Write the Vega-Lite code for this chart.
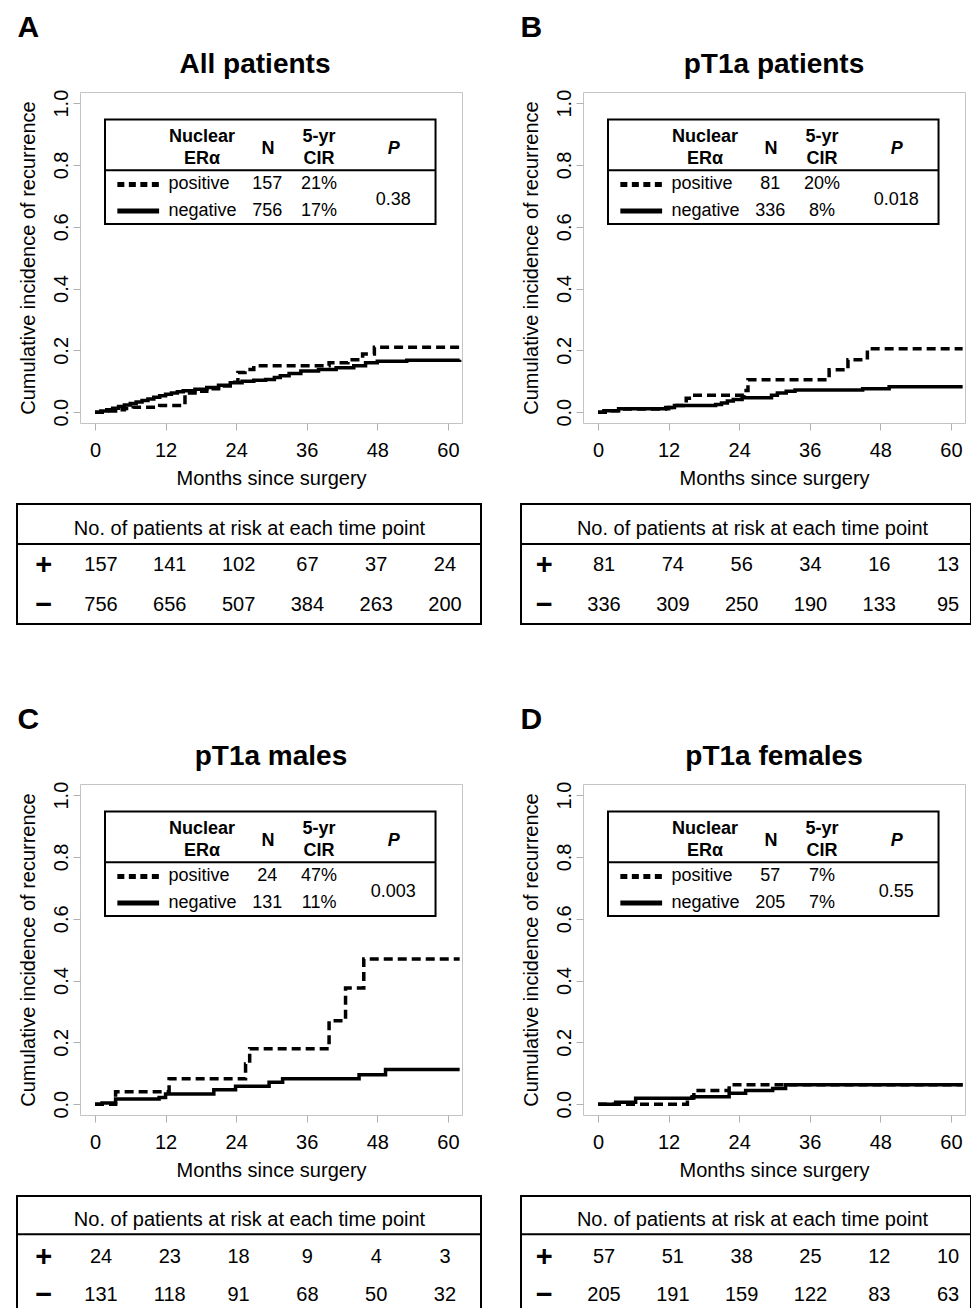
{
 "$schema": "https://vega.github.io/schema/vega-lite/v6.json",
 "padding": {"left": 15, "top": 12, "right": 0, "bottom": 0},
 "background": "white",
 "config": {
  "font": "Liberation Sans",
  "view": {"stroke": "#c4c4c4", "strokeWidth": 1},
  "mark": {"color": "black"},
  "axis": {"grid": false, "domain": false, "tickColor": "#b0b0b0", "tickSize": 7, "tickWidth": 1, "labelFontSize": 20, "titleFontSize": 20, "titleFontWeight": "normal", "labelColor": "black", "titleColor": "black", "labelFont": "Liberation Sans", "titleFont": "Liberation Sans"},
  "axisX": {"labelPadding": 10, "titlePadding": 8, "labelAngle": 0},
  "axisY": {"labelAngle": 270, "labelAlign": "center", "labelBaseline": "bottom", "labelPadding": 2, "titlePadding": 13},
  "text": {"font": "Liberation Sans", "fontSize": 18, "color": "black", "baseline": "middle"},
  "title": {"font": "Liberation Sans", "color": "black", "fontWeight": "bold"}
 },
 "datasets": {
  "curveA": [
   {"group":"positive","t":0,"cir":0},{"group":"positive","t":2,"cir":0.004},{"group":"positive","t":3.5,"cir":0.008},{"group":"positive","t":5,"cir":0.012},{"group":"positive","t":6.5,"cir":0.016},{"group":"positive","t":11,"cir":0.022},{"group":"positive","t":15.3,"cir":0.062},{"group":"positive","t":17,"cir":0.068},{"group":"positive","t":19,"cir":0.076},{"group":"positive","t":21,"cir":0.085},{"group":"positive","t":23,"cir":0.097},{"group":"positive","t":24.3,"cir":0.128},{"group":"positive","t":25.5,"cir":0.138},{"group":"positive","t":27,"cir":0.15},{"group":"positive","t":39.8,"cir":0.16},{"group":"positive","t":43,"cir":0.17},{"group":"positive","t":45.5,"cir":0.188},{"group":"positive","t":47.5,"cir":0.21},{"group":"positive","t":62,"cir":0.21},
   {"group":"negative","t":0,"cir":0},{"group":"negative","t":1,"cir":0.004},{"group":"negative","t":2,"cir":0.008},{"group":"negative","t":3,"cir":0.013},{"group":"negative","t":4,"cir":0.018},{"group":"negative","t":5,"cir":0.023},{"group":"negative","t":6,"cir":0.028},{"group":"negative","t":7,"cir":0.033},{"group":"negative","t":8,"cir":0.038},{"group":"negative","t":9,"cir":0.043},{"group":"negative","t":10,"cir":0.048},{"group":"negative","t":11,"cir":0.053},{"group":"negative","t":12,"cir":0.058},{"group":"negative","t":13,"cir":0.062},{"group":"negative","t":14,"cir":0.066},{"group":"negative","t":15,"cir":0.069},{"group":"negative","t":17,"cir":0.074},{"group":"negative","t":19,"cir":0.08},{"group":"negative","t":21,"cir":0.087},{"group":"negative","t":23,"cir":0.095},{"group":"negative","t":25,"cir":0.1},{"group":"negative","t":27,"cir":0.103},{"group":"negative","t":29,"cir":0.106},{"group":"negative","t":30.5,"cir":0.112},{"group":"negative","t":31.5,"cir":0.118},{"group":"negative","t":33,"cir":0.125},{"group":"negative","t":35,"cir":0.133},{"group":"negative","t":38,"cir":0.138},{"group":"negative","t":41,"cir":0.144},{"group":"negative","t":44,"cir":0.15},{"group":"negative","t":46,"cir":0.16},{"group":"negative","t":48,"cir":0.165},{"group":"negative","t":53,"cir":0.168},{"group":"negative","t":62,"cir":0.17}
  ],
  "curveB": [
   {"group":"positive","t":0,"cir":0},{"group":"positive","t":2,"cir":0.005},{"group":"positive","t":4,"cir":0.01},{"group":"positive","t":11.5,"cir":0.015},{"group":"positive","t":12.5,"cir":0.022},{"group":"positive","t":14.5,"cir":0.03},{"group":"positive","t":15,"cir":0.045},{"group":"positive","t":16,"cir":0.055},{"group":"positive","t":24.8,"cir":0.07},{"group":"positive","t":25.5,"cir":0.105},{"group":"positive","t":39.3,"cir":0.137},{"group":"positive","t":42.5,"cir":0.17},{"group":"positive","t":45.8,"cir":0.205},{"group":"positive","t":62,"cir":0.205},
   {"group":"negative","t":0,"cir":0},{"group":"negative","t":1,"cir":0.005},{"group":"negative","t":3.5,"cir":0.011},{"group":"negative","t":12,"cir":0.015},{"group":"negative","t":13,"cir":0.022},{"group":"negative","t":20,"cir":0.025},{"group":"negative","t":21,"cir":0.03},{"group":"negative","t":22,"cir":0.036},{"group":"negative","t":23,"cir":0.041},{"group":"negative","t":24.5,"cir":0.047},{"group":"negative","t":29.5,"cir":0.055},{"group":"negative","t":30.5,"cir":0.062},{"group":"negative","t":32,"cir":0.068},{"group":"negative","t":33.5,"cir":0.072},{"group":"negative","t":45,"cir":0.076},{"group":"negative","t":49.5,"cir":0.082},{"group":"negative","t":62,"cir":0.082}
  ],
  "curveC": [
   {"group":"positive","t":0,"cir":0},{"group":"positive","t":3.5,"cir":0.04},{"group":"positive","t":12.6,"cir":0.082},{"group":"positive","t":25.6,"cir":0.13},{"group":"positive","t":26.3,"cir":0.179},{"group":"positive","t":39.8,"cir":0.27},{"group":"positive","t":42.6,"cir":0.376},{"group":"positive","t":45.7,"cir":0.47},{"group":"positive","t":62,"cir":0.47},
   {"group":"negative","t":0,"cir":0},{"group":"negative","t":1.2,"cir":0.004},{"group":"negative","t":3.5,"cir":0.017},{"group":"negative","t":10.9,"cir":0.022},{"group":"negative","t":12,"cir":0.033},{"group":"negative","t":20.2,"cir":0.047},{"group":"negative","t":23.9,"cir":0.058},{"group":"negative","t":29.6,"cir":0.071},{"group":"negative","t":31.9,"cir":0.082},{"group":"negative","t":44.9,"cir":0.095},{"group":"negative","t":49.4,"cir":0.112},{"group":"negative","t":62,"cir":0.112}
  ],
  "curveD": [
   {"group":"positive","t":0,"cir":0},{"group":"positive","t":15.2,"cir":0.02},{"group":"positive","t":16.3,"cir":0.044},{"group":"positive","t":22.3,"cir":0.063},{"group":"positive","t":62,"cir":0.063},
   {"group":"negative","t":0,"cir":0},{"group":"negative","t":3,"cir":0.006},{"group":"negative","t":6.4,"cir":0.019},{"group":"negative","t":16,"cir":0.024},{"group":"negative","t":22.3,"cir":0.035},{"group":"negative","t":25.1,"cir":0.044},{"group":"negative","t":29.7,"cir":0.051},{"group":"negative","t":31.9,"cir":0.063},{"group":"negative","t":62,"cir":0.063}
  ],
  "riskA": [
   {"group":"positive","month":0,"n":157},{"group":"positive","month":12,"n":141},{"group":"positive","month":24,"n":102},{"group":"positive","month":36,"n":67},{"group":"positive","month":48,"n":37},{"group":"positive","month":60,"n":24},
   {"group":"negative","month":0,"n":756},{"group":"negative","month":12,"n":656},{"group":"negative","month":24,"n":507},{"group":"negative","month":36,"n":384},{"group":"negative","month":48,"n":263},{"group":"negative","month":60,"n":200}
  ],
  "riskB": [
   {"group":"positive","month":0,"n":81},{"group":"positive","month":12,"n":74},{"group":"positive","month":24,"n":56},{"group":"positive","month":36,"n":34},{"group":"positive","month":48,"n":16},{"group":"positive","month":60,"n":13},
   {"group":"negative","month":0,"n":336},{"group":"negative","month":12,"n":309},{"group":"negative","month":24,"n":250},{"group":"negative","month":36,"n":190},{"group":"negative","month":48,"n":133},{"group":"negative","month":60,"n":95}
  ],
  "riskC": [
   {"group":"positive","month":0,"n":24},{"group":"positive","month":12,"n":23},{"group":"positive","month":24,"n":18},{"group":"positive","month":36,"n":9},{"group":"positive","month":48,"n":4},{"group":"positive","month":60,"n":3},
   {"group":"negative","month":0,"n":131},{"group":"negative","month":12,"n":118},{"group":"negative","month":24,"n":91},{"group":"negative","month":36,"n":68},{"group":"negative","month":48,"n":50},{"group":"negative","month":60,"n":32}
  ],
  "riskD": [
   {"group":"positive","month":0,"n":57},{"group":"positive","month":12,"n":51},{"group":"positive","month":24,"n":38},{"group":"positive","month":36,"n":25},{"group":"positive","month":48,"n":12},{"group":"positive","month":60,"n":10},
   {"group":"negative","month":0,"n":205},{"group":"negative","month":12,"n":191},{"group":"negative","month":24,"n":159},{"group":"negative","month":36,"n":122},{"group":"negative","month":48,"n":83},{"group":"negative","month":60,"n":63}
  ]
 },
 "spacing": 78,
 "vconcat": [
  {"spacing": 13, "vconcat": [
   {"spacing": 52, "hconcat": [
    {"title": {"text": "A", "fontSize": 30, "anchor": "start", "offset": 8}, "vconcat": [
     {"width": 382, "height": 331,
      "title": {"text": "All patients", "fontSize": 28, "frame": "group", "anchor": "middle", "offset": 10, "dx": -16},
      "data": {"values": [{}]},
      "layer": [
       {"data": {"name": "curveA"}, "mark": {"type": "line", "interpolate": "step-after", "strokeWidth": 3.5, "color": "black", "strokeCap": "butt"},
        "encoding": {
         "x": {"field": "t", "type": "quantitative", "scale": {"domain": [-2.55, 62.4], "nice": false, "zero": false}, "axis": {"values": [0,12,24,36,48,60], "title": "Months since surgery"}},
         "y": {"field": "cir", "type": "quantitative", "scale": {"domain": [-0.035, 1.036], "nice": false, "zero": false}, "axis": {"values": [0,0.2,0.4,0.6,0.8,1], "format": ".1f", "title": "Cumulative incidence of recurrence"}},
         "strokeDash": {"field": "group", "type": "nominal", "scale": {"domain": ["positive","negative"], "range": [[9,5],[1,0]]}, "legend": null}}},
       {"mark": {"type": "rect", "fill": "white", "stroke": "black", "strokeWidth": 2}, "encoding": {"x": {"datum": 1.7}, "x2": {"datum": 57.9}, "y": {"datum": 0.947}, "y2": {"datum": 0.609}}},
       {"mark": {"type": "rule", "strokeWidth": 2, "color": "black"}, "encoding": {"x": {"datum": 1.7}, "x2": {"datum": 57.9}, "y": {"datum": 0.783}}},
       {"mark": {"type": "text", "fontWeight": "bold", "text": ["Nuclear", "ERα"], "lineHeight": 22.5}, "encoding": {"x": {"datum": 18.2}, "y": {"datum": 0.8905}}},
       {"mark": {"type": "text", "fontWeight": "bold", "text": "N"}, "encoding": {"x": {"datum": 29.4}, "y": {"datum": 0.851}}},
       {"mark": {"type": "text", "fontWeight": "bold", "text": ["5-yr", "CIR"], "lineHeight": 22.5}, "encoding": {"x": {"datum": 38.1}, "y": {"datum": 0.8905}}},
       {"mark": {"type": "text", "fontWeight": "bold", "fontStyle": "italic", "text": "P"}, "encoding": {"x": {"datum": 50.8}, "y": {"datum": 0.851}}},
       {"data": {"values": [{"P": "0.38"}]}, "mark": {"type": "text"}, "encoding": {"x": {"datum": 50.7}, "y": {"datum": 0.687}, "text": {"field": "P"}}},
       {"data": {"values": [{"group": "positive", "N": 157, "CIR": "21%"}]}, "encoding": {"y": {"datum": 0.737}}, "layer": [
        {"mark": {"type": "rule", "strokeWidth": 5, "strokeDash": [7, 4.5]}, "encoding": {"x": {"datum": 3.8}, "x2": {"datum": 10.9}}},
        {"mark": {"type": "text", "align": "left"}, "encoding": {"x": {"datum": 12.5}, "text": {"field": "group"}}},
        {"mark": {"type": "text"}, "encoding": {"x": {"datum": 29.3}, "text": {"field": "N"}}},
        {"mark": {"type": "text"}, "encoding": {"x": {"datum": 38.1}, "text": {"field": "CIR"}}}]},
       {"data": {"values": [{"group": "negative", "N": 756, "CIR": "17%"}]}, "encoding": {"y": {"datum": 0.651}}, "layer": [
        {"mark": {"type": "rule", "strokeWidth": 5}, "encoding": {"x": {"datum": 3.8}, "x2": {"datum": 10.9}}},
        {"mark": {"type": "text", "align": "left"}, "encoding": {"x": {"datum": 12.5}, "text": {"field": "group"}}},
        {"mark": {"type": "text"}, "encoding": {"x": {"datum": 29.3}, "text": {"field": "N"}}},
        {"mark": {"type": "text"}, "encoding": {"x": {"datum": 38.1}, "text": {"field": "CIR"}}}]}
      ]}
    ]},
    {"title": {"text": "B", "fontSize": 30, "anchor": "start", "offset": 8}, "vconcat": [
     {"width": 382, "height": 331,
      "title": {"text": "pT1a patients", "fontSize": 28, "frame": "group", "anchor": "middle", "offset": 10},
      "data": {"values": [{}]},
      "layer": [
       {"data": {"name": "curveB"}, "mark": {"type": "line", "interpolate": "step-after", "strokeWidth": 3.5, "color": "black", "strokeCap": "butt"},
        "encoding": {
         "x": {"field": "t", "type": "quantitative", "scale": {"domain": [-2.55, 62.4], "nice": false, "zero": false}, "axis": {"values": [0,12,24,36,48,60], "title": "Months since surgery"}},
         "y": {"field": "cir", "type": "quantitative", "scale": {"domain": [-0.035, 1.036], "nice": false, "zero": false}, "axis": {"values": [0,0.2,0.4,0.6,0.8,1], "format": ".1f", "title": "Cumulative incidence of recurrence"}},
         "strokeDash": {"field": "group", "type": "nominal", "scale": {"domain": ["positive","negative"], "range": [[9,5],[1,0]]}, "legend": null}}},
       {"mark": {"type": "rect", "fill": "white", "stroke": "black", "strokeWidth": 2}, "encoding": {"x": {"datum": 1.7}, "x2": {"datum": 57.9}, "y": {"datum": 0.947}, "y2": {"datum": 0.609}}},
       {"mark": {"type": "rule", "strokeWidth": 2, "color": "black"}, "encoding": {"x": {"datum": 1.7}, "x2": {"datum": 57.9}, "y": {"datum": 0.783}}},
       {"mark": {"type": "text", "fontWeight": "bold", "text": ["Nuclear", "ERα"], "lineHeight": 22.5}, "encoding": {"x": {"datum": 18.2}, "y": {"datum": 0.8905}}},
       {"mark": {"type": "text", "fontWeight": "bold", "text": "N"}, "encoding": {"x": {"datum": 29.4}, "y": {"datum": 0.851}}},
       {"mark": {"type": "text", "fontWeight": "bold", "text": ["5-yr", "CIR"], "lineHeight": 22.5}, "encoding": {"x": {"datum": 38.1}, "y": {"datum": 0.8905}}},
       {"mark": {"type": "text", "fontWeight": "bold", "fontStyle": "italic", "text": "P"}, "encoding": {"x": {"datum": 50.8}, "y": {"datum": 0.851}}},
       {"data": {"values": [{"P": "0.018"}]}, "mark": {"type": "text"}, "encoding": {"x": {"datum": 50.7}, "y": {"datum": 0.687}, "text": {"field": "P"}}},
       {"data": {"values": [{"group": "positive", "N": 81, "CIR": "20%"}]}, "encoding": {"y": {"datum": 0.737}}, "layer": [
        {"mark": {"type": "rule", "strokeWidth": 5, "strokeDash": [7, 4.5]}, "encoding": {"x": {"datum": 3.8}, "x2": {"datum": 10.9}}},
        {"mark": {"type": "text", "align": "left"}, "encoding": {"x": {"datum": 12.5}, "text": {"field": "group"}}},
        {"mark": {"type": "text"}, "encoding": {"x": {"datum": 29.3}, "text": {"field": "N"}}},
        {"mark": {"type": "text"}, "encoding": {"x": {"datum": 38.1}, "text": {"field": "CIR"}}}]},
       {"data": {"values": [{"group": "negative", "N": 336, "CIR": "8%"}]}, "encoding": {"y": {"datum": 0.651}}, "layer": [
        {"mark": {"type": "rule", "strokeWidth": 5}, "encoding": {"x": {"datum": 3.8}, "x2": {"datum": 10.9}}},
        {"mark": {"type": "text", "align": "left"}, "encoding": {"x": {"datum": 12.5}, "text": {"field": "group"}}},
        {"mark": {"type": "text"}, "encoding": {"x": {"datum": 29.3}, "text": {"field": "N"}}},
        {"mark": {"type": "text"}, "encoding": {"x": {"datum": 38.1}, "text": {"field": "CIR"}}}]}
      ]}
    ]}
   ]},
   {"spacing": 36, "hconcat": [
    {"width": 401, "height": 120, "view": {"stroke": null},
     "layer": [
      {"data": {"name": "riskA"}, "mark": {"type": "text", "fontSize": 20, "dy": 1},
       "encoding": {
        "x": {"field": "month", "type": "quantitative", "scale": {"domain": [-3.663, 66.28], "nice": false, "zero": false}, "axis": null},
        "y": {"field": "group", "type": "nominal", "scale": {"type": "band", "domain": ["header","positive","negative"], "paddingInner": 0, "paddingOuter": 0}, "axis": null},
        "text": {"field": "n"}}},
      {"data": {"values": [{"group": "positive", "sign": "+"}, {"group": "negative", "sign": "−"}]}, "mark": {"type": "text", "fontSize": 29, "fontWeight": "bold", "dy": 1}, "encoding": {"x": {"datum": -10.0}, "y": {"field": "group", "type": "nominal"}, "text": {"field": "sign"}}},
      {"data": {"values": [{"label": "No. of patients at risk at each time point"}]}, "mark": {"type": "text", "fontSize": 20, "dy": 5}, "encoding": {"x": {"datum": 25.9}, "y": {"datum": "header", "type": "nominal"}, "text": {"field": "label"}}},
      {"data": {"values": [{}]}, "layer": [
       {"mark": {"type": "rule", "strokeWidth": 2}, "encoding": {"x": {"datum": -14.65}, "x2": {"datum": 66.28}, "y": {"datum": "positive", "type": "nominal", "bandPosition": 0}}},
       {"mark": {"type": "rule", "strokeWidth": 2, "strokeCap": "square"}, "encoding": {"x": {"datum": -14.65}, "x2": {"datum": 66.28}, "y": {"datum": "header", "type": "nominal", "bandPosition": 0}}},
       {"mark": {"type": "rule", "strokeWidth": 2, "strokeCap": "square"}, "encoding": {"x": {"datum": -14.65}, "x2": {"datum": 66.28}, "y": {"datum": "negative", "type": "nominal", "bandPosition": 1}}},
       {"mark": {"type": "rule", "strokeWidth": 2}, "encoding": {"x": {"datum": -14.65}}},
       {"mark": {"type": "rule", "strokeWidth": 2}, "encoding": {"x": {"datum": 66.28}}}
      ]}
     ]},
    {"width": 387, "height": 120, "view": {"stroke": null},
     "layer": [
      {"data": {"name": "riskB"}, "mark": {"type": "text", "fontSize": 20, "dy": 1},
       "encoding": {
        "x": {"field": "month", "type": "quantitative", "scale": {"domain": [-3.49, 64.0], "nice": false, "zero": false}, "axis": null},
        "y": {"field": "group", "type": "nominal", "scale": {"type": "band", "domain": ["header","positive","negative"], "paddingInner": 0, "paddingOuter": 0}, "axis": null},
        "text": {"field": "n"}}},
      {"data": {"values": [{"group": "positive", "sign": "+"}, {"group": "negative", "sign": "−"}]}, "mark": {"type": "text", "fontSize": 29, "fontWeight": "bold", "dy": 1}, "encoding": {"x": {"datum": -10.41}, "y": {"field": "group", "type": "nominal"}, "text": {"field": "sign"}}},
      {"data": {"values": [{"label": "No. of patients at risk at each time point"}]}, "mark": {"type": "text", "fontSize": 20, "dy": 5}, "encoding": {"x": {"datum": 25.9}, "y": {"datum": "header", "type": "nominal"}, "text": {"field": "label"}}},
      {"data": {"values": [{}]}, "layer": [
       {"mark": {"type": "rule", "strokeWidth": 2}, "encoding": {"x": {"datum": -14.48}, "x2": {"datum": 64.0}, "y": {"datum": "positive", "type": "nominal", "bandPosition": 0}}},
       {"mark": {"type": "rule", "strokeWidth": 2, "strokeCap": "square"}, "encoding": {"x": {"datum": -14.48}, "x2": {"datum": 64.0}, "y": {"datum": "header", "type": "nominal", "bandPosition": 0}}},
       {"mark": {"type": "rule", "strokeWidth": 2, "strokeCap": "square"}, "encoding": {"x": {"datum": -14.48}, "x2": {"datum": 64.0}, "y": {"datum": "negative", "type": "nominal", "bandPosition": 1}}},
       {"mark": {"type": "rule", "strokeWidth": 2}, "encoding": {"x": {"datum": -14.48}}},
       {"mark": {"type": "rule", "strokeWidth": 2}, "encoding": {"x": {"datum": 64.0}}}
      ]}
     ]}
   ]}
  ]},
  {"spacing": 13, "vconcat": [
   {"spacing": 52, "hconcat": [
    {"title": {"text": "C", "fontSize": 30, "anchor": "start", "offset": 8}, "vconcat": [
     {"width": 382, "height": 331,
      "title": {"text": "pT1a males", "fontSize": 28, "frame": "group", "anchor": "middle", "offset": 10},
      "data": {"values": [{}]},
      "layer": [
       {"data": {"name": "curveC"}, "mark": {"type": "line", "interpolate": "step-after", "strokeWidth": 3.5, "color": "black", "strokeCap": "butt"},
        "encoding": {
         "x": {"field": "t", "type": "quantitative", "scale": {"domain": [-2.55, 62.4], "nice": false, "zero": false}, "axis": {"values": [0,12,24,36,48,60], "title": "Months since surgery"}},
         "y": {"field": "cir", "type": "quantitative", "scale": {"domain": [-0.035, 1.036], "nice": false, "zero": false}, "axis": {"values": [0,0.2,0.4,0.6,0.8,1], "format": ".1f", "title": "Cumulative incidence of recurrence"}},
         "strokeDash": {"field": "group", "type": "nominal", "scale": {"domain": ["positive","negative"], "range": [[9,5],[1,0]]}, "legend": null}}},
       {"mark": {"type": "rect", "fill": "white", "stroke": "black", "strokeWidth": 2}, "encoding": {"x": {"datum": 1.7}, "x2": {"datum": 57.9}, "y": {"datum": 0.947}, "y2": {"datum": 0.609}}},
       {"mark": {"type": "rule", "strokeWidth": 2, "color": "black"}, "encoding": {"x": {"datum": 1.7}, "x2": {"datum": 57.9}, "y": {"datum": 0.783}}},
       {"mark": {"type": "text", "fontWeight": "bold", "text": ["Nuclear", "ERα"], "lineHeight": 22.5}, "encoding": {"x": {"datum": 18.2}, "y": {"datum": 0.8905}}},
       {"mark": {"type": "text", "fontWeight": "bold", "text": "N"}, "encoding": {"x": {"datum": 29.4}, "y": {"datum": 0.851}}},
       {"mark": {"type": "text", "fontWeight": "bold", "text": ["5-yr", "CIR"], "lineHeight": 22.5}, "encoding": {"x": {"datum": 38.1}, "y": {"datum": 0.8905}}},
       {"mark": {"type": "text", "fontWeight": "bold", "fontStyle": "italic", "text": "P"}, "encoding": {"x": {"datum": 50.8}, "y": {"datum": 0.851}}},
       {"data": {"values": [{"P": "0.003"}]}, "mark": {"type": "text"}, "encoding": {"x": {"datum": 50.7}, "y": {"datum": 0.687}, "text": {"field": "P"}}},
       {"data": {"values": [{"group": "positive", "N": 24, "CIR": "47%"}]}, "encoding": {"y": {"datum": 0.737}}, "layer": [
        {"mark": {"type": "rule", "strokeWidth": 5, "strokeDash": [7, 4.5]}, "encoding": {"x": {"datum": 3.8}, "x2": {"datum": 10.9}}},
        {"mark": {"type": "text", "align": "left"}, "encoding": {"x": {"datum": 12.5}, "text": {"field": "group"}}},
        {"mark": {"type": "text"}, "encoding": {"x": {"datum": 29.3}, "text": {"field": "N"}}},
        {"mark": {"type": "text"}, "encoding": {"x": {"datum": 38.1}, "text": {"field": "CIR"}}}]},
       {"data": {"values": [{"group": "negative", "N": 131, "CIR": "11%"}]}, "encoding": {"y": {"datum": 0.651}}, "layer": [
        {"mark": {"type": "rule", "strokeWidth": 5}, "encoding": {"x": {"datum": 3.8}, "x2": {"datum": 10.9}}},
        {"mark": {"type": "text", "align": "left"}, "encoding": {"x": {"datum": 12.5}, "text": {"field": "group"}}},
        {"mark": {"type": "text"}, "encoding": {"x": {"datum": 29.3}, "text": {"field": "N"}}},
        {"mark": {"type": "text"}, "encoding": {"x": {"datum": 38.1}, "text": {"field": "CIR"}}}]}
      ]}
    ]},
    {"title": {"text": "D", "fontSize": 30, "anchor": "start", "offset": 8}, "vconcat": [
     {"width": 382, "height": 331,
      "title": {"text": "pT1a females", "fontSize": 28, "frame": "group", "anchor": "middle", "offset": 10},
      "data": {"values": [{}]},
      "layer": [
       {"data": {"name": "curveD"}, "mark": {"type": "line", "interpolate": "step-after", "strokeWidth": 3.5, "color": "black", "strokeCap": "butt"},
        "encoding": {
         "x": {"field": "t", "type": "quantitative", "scale": {"domain": [-2.55, 62.4], "nice": false, "zero": false}, "axis": {"values": [0,12,24,36,48,60], "title": "Months since surgery"}},
         "y": {"field": "cir", "type": "quantitative", "scale": {"domain": [-0.035, 1.036], "nice": false, "zero": false}, "axis": {"values": [0,0.2,0.4,0.6,0.8,1], "format": ".1f", "title": "Cumulative incidence of recurrence"}},
         "strokeDash": {"field": "group", "type": "nominal", "scale": {"domain": ["positive","negative"], "range": [[9,5],[1,0]]}, "legend": null}}},
       {"mark": {"type": "rect", "fill": "white", "stroke": "black", "strokeWidth": 2}, "encoding": {"x": {"datum": 1.7}, "x2": {"datum": 57.9}, "y": {"datum": 0.947}, "y2": {"datum": 0.609}}},
       {"mark": {"type": "rule", "strokeWidth": 2, "color": "black"}, "encoding": {"x": {"datum": 1.7}, "x2": {"datum": 57.9}, "y": {"datum": 0.783}}},
       {"mark": {"type": "text", "fontWeight": "bold", "text": ["Nuclear", "ERα"], "lineHeight": 22.5}, "encoding": {"x": {"datum": 18.2}, "y": {"datum": 0.8905}}},
       {"mark": {"type": "text", "fontWeight": "bold", "text": "N"}, "encoding": {"x": {"datum": 29.4}, "y": {"datum": 0.851}}},
       {"mark": {"type": "text", "fontWeight": "bold", "text": ["5-yr", "CIR"], "lineHeight": 22.5}, "encoding": {"x": {"datum": 38.1}, "y": {"datum": 0.8905}}},
       {"mark": {"type": "text", "fontWeight": "bold", "fontStyle": "italic", "text": "P"}, "encoding": {"x": {"datum": 50.8}, "y": {"datum": 0.851}}},
       {"data": {"values": [{"P": "0.55"}]}, "mark": {"type": "text"}, "encoding": {"x": {"datum": 50.7}, "y": {"datum": 0.687}, "text": {"field": "P"}}},
       {"data": {"values": [{"group": "positive", "N": 57, "CIR": "7%"}]}, "encoding": {"y": {"datum": 0.737}}, "layer": [
        {"mark": {"type": "rule", "strokeWidth": 5, "strokeDash": [7, 4.5]}, "encoding": {"x": {"datum": 3.8}, "x2": {"datum": 10.9}}},
        {"mark": {"type": "text", "align": "left"}, "encoding": {"x": {"datum": 12.5}, "text": {"field": "group"}}},
        {"mark": {"type": "text"}, "encoding": {"x": {"datum": 29.3}, "text": {"field": "N"}}},
        {"mark": {"type": "text"}, "encoding": {"x": {"datum": 38.1}, "text": {"field": "CIR"}}}]},
       {"data": {"values": [{"group": "negative", "N": 205, "CIR": "7%"}]}, "encoding": {"y": {"datum": 0.651}}, "layer": [
        {"mark": {"type": "rule", "strokeWidth": 5}, "encoding": {"x": {"datum": 3.8}, "x2": {"datum": 10.9}}},
        {"mark": {"type": "text", "align": "left"}, "encoding": {"x": {"datum": 12.5}, "text": {"field": "group"}}},
        {"mark": {"type": "text"}, "encoding": {"x": {"datum": 29.3}, "text": {"field": "N"}}},
        {"mark": {"type": "text"}, "encoding": {"x": {"datum": 38.1}, "text": {"field": "CIR"}}}]}
      ]}
    ]}
   ]},
   {"spacing": 36, "hconcat": [
    {"width": 401, "height": 115, "view": {"stroke": null},
     "layer": [
      {"data": {"name": "riskC"}, "mark": {"type": "text", "fontSize": 20, "dy": 3},
       "encoding": {
        "x": {"field": "month", "type": "quantitative", "scale": {"domain": [-3.663, 66.28], "nice": false, "zero": false}, "axis": null},
        "y": {"field": "group", "type": "nominal", "scale": {"type": "band", "domain": ["header","positive","negative"], "paddingInner": 0, "paddingOuter": 0}, "axis": null},
        "text": {"field": "n"}}},
      {"data": {"values": [{"group": "positive", "sign": "+"}, {"group": "negative", "sign": "−"}]}, "mark": {"type": "text", "fontSize": 29, "fontWeight": "bold", "dy": 3}, "encoding": {"x": {"datum": -10.0}, "y": {"field": "group", "type": "nominal"}, "text": {"field": "sign"}}},
      {"data": {"values": [{"label": "No. of patients at risk at each time point"}]}, "mark": {"type": "text", "fontSize": 20, "dy": 5}, "encoding": {"x": {"datum": 25.9}, "y": {"datum": "header", "type": "nominal"}, "text": {"field": "label"}}},
      {"data": {"values": [{}]}, "layer": [
       {"mark": {"type": "rule", "strokeWidth": 2}, "encoding": {"x": {"datum": -14.65}, "x2": {"datum": 66.28}, "y": {"datum": "positive", "type": "nominal", "bandPosition": 0}}},
       {"mark": {"type": "rule", "strokeWidth": 2, "strokeCap": "square"}, "encoding": {"x": {"datum": -14.65}, "x2": {"datum": 66.28}, "y": {"datum": "header", "type": "nominal", "bandPosition": 0}}},
       {"mark": {"type": "rule", "strokeWidth": 2, "strokeCap": "square"}, "encoding": {"x": {"datum": -14.65}, "x2": {"datum": 66.28}, "y": {"datum": "negative", "type": "nominal", "bandPosition": 1}}},
       {"mark": {"type": "rule", "strokeWidth": 2}, "encoding": {"x": {"datum": -14.65}}},
       {"mark": {"type": "rule", "strokeWidth": 2}, "encoding": {"x": {"datum": 66.28}}}
      ]}
     ]},
    {"width": 387, "height": 115, "view": {"stroke": null},
     "layer": [
      {"data": {"name": "riskD"}, "mark": {"type": "text", "fontSize": 20, "dy": 3},
       "encoding": {
        "x": {"field": "month", "type": "quantitative", "scale": {"domain": [-3.49, 64.0], "nice": false, "zero": false}, "axis": null},
        "y": {"field": "group", "type": "nominal", "scale": {"type": "band", "domain": ["header","positive","negative"], "paddingInner": 0, "paddingOuter": 0}, "axis": null},
        "text": {"field": "n"}}},
      {"data": {"values": [{"group": "positive", "sign": "+"}, {"group": "negative", "sign": "−"}]}, "mark": {"type": "text", "fontSize": 29, "fontWeight": "bold", "dy": 3}, "encoding": {"x": {"datum": -10.41}, "y": {"field": "group", "type": "nominal"}, "text": {"field": "sign"}}},
      {"data": {"values": [{"label": "No. of patients at risk at each time point"}]}, "mark": {"type": "text", "fontSize": 20, "dy": 5}, "encoding": {"x": {"datum": 25.9}, "y": {"datum": "header", "type": "nominal"}, "text": {"field": "label"}}},
      {"data": {"values": [{}]}, "layer": [
       {"mark": {"type": "rule", "strokeWidth": 2}, "encoding": {"x": {"datum": -14.48}, "x2": {"datum": 64.0}, "y": {"datum": "positive", "type": "nominal", "bandPosition": 0}}},
       {"mark": {"type": "rule", "strokeWidth": 2, "strokeCap": "square"}, "encoding": {"x": {"datum": -14.48}, "x2": {"datum": 64.0}, "y": {"datum": "header", "type": "nominal", "bandPosition": 0}}},
       {"mark": {"type": "rule", "strokeWidth": 2, "strokeCap": "square"}, "encoding": {"x": {"datum": -14.48}, "x2": {"datum": 64.0}, "y": {"datum": "negative", "type": "nominal", "bandPosition": 1}}},
       {"mark": {"type": "rule", "strokeWidth": 2}, "encoding": {"x": {"datum": -14.48}}},
       {"mark": {"type": "rule", "strokeWidth": 2}, "encoding": {"x": {"datum": 64.0}}}
      ]}
     ]}
   ]}
  ]}
 ]
}
